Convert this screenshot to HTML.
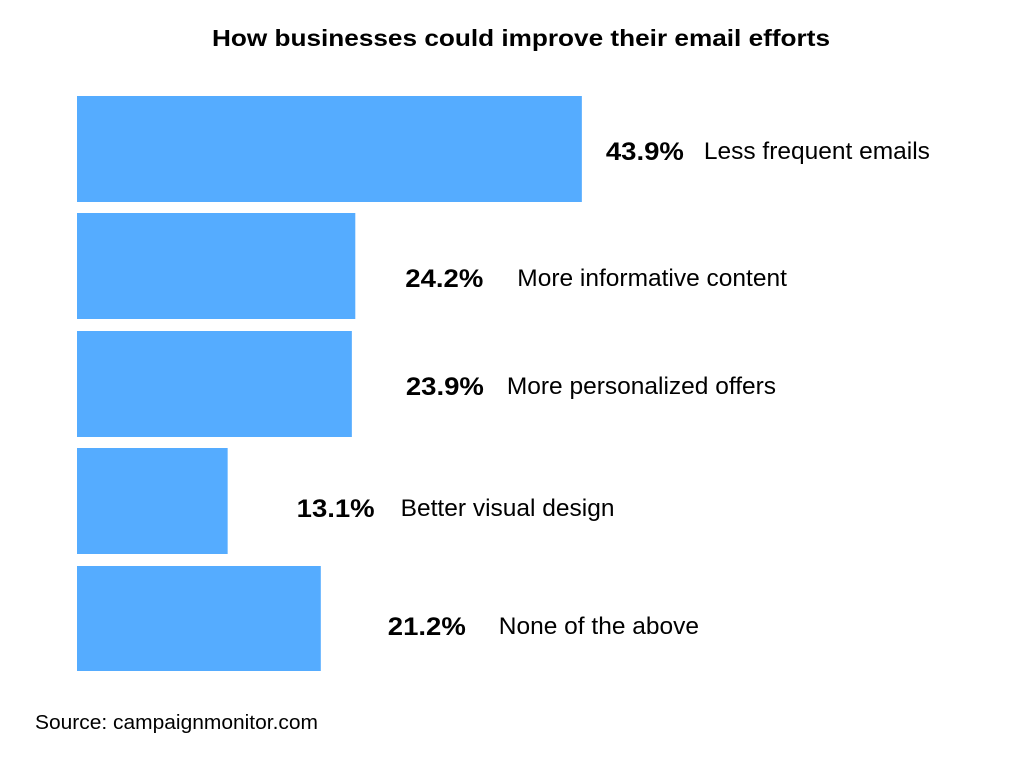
<!DOCTYPE html>
<html><head><meta charset="utf-8">
<style>
html,body{margin:0;padding:0;background:#fff;width:1024px;height:768px;overflow:hidden}
svg text{font-family:"Liberation Sans",sans-serif;fill:#000}
</style></head>
<body>
<svg id="chart" width="1024" height="768">
<text x="212" y="46" font-size="23" font-weight="bold" textLength="618" lengthAdjust="spacingAndGlyphs">How businesses could improve their email efforts</text>
<text x="35" y="729" font-size="20" textLength="283" lengthAdjust="spacingAndGlyphs">Source: campaignmonitor.com</text>
</svg>
<script>
const categories = ["Less frequent emails","More informative content","More personalized offers","Better visual design","None of the above"];
const values = [43.9,24.2,23.9,13.1,21.2];
const valueLabels = ["43.9%","24.2%","23.9%","13.1%","21.2%"];
// layout (not data)
const layout = [
  {top:96,h:106,vx:24,lx:122,ty:151},
  {top:213,h:106,vx:50,lx:162,ty:278},
  {top:331,h:106,vx:54,lx:155,ty:386},
  {top:448,h:106,vx:69,lx:173,ty:508},
  {top:566,h:105,vx:67,lx:178,ty:626}
];
const x0 = 77, pxPer = 11.5;
const xScale = v => x0 + v * pxPer;
const svg = document.getElementById('chart');
const NS = 'http://www.w3.org/2000/svg';
values.forEach((v,i)=>{
  const L = layout[i];
  const end = xScale(v);
  const r = document.createElementNS(NS,'rect');
  r.setAttribute('x',x0);r.setAttribute('y',L.top);
  r.setAttribute('width',end-x0);r.setAttribute('height',L.h);
  r.setAttribute('fill','#55acff');
  
  
  svg.appendChild(r);
  const t = document.createElementNS(NS,'text');
  t.setAttribute('x',end+L.vx);t.setAttribute('y',L.ty+9);
  t.setAttribute('font-size','25');t.setAttribute('font-weight','bold');
  t.setAttribute('textLength','78');t.setAttribute('lengthAdjust','spacingAndGlyphs');
  t.textContent = valueLabels[i];
  
  
  svg.appendChild(t);
  const c = document.createElementNS(NS,'text');
  c.setAttribute('x',end+L.lx);c.setAttribute('y',L.ty+8);
  c.setAttribute('font-size','24.5');
  c.textContent = categories[i];
  
  
  svg.appendChild(c);
});
</script>
</body></html>
